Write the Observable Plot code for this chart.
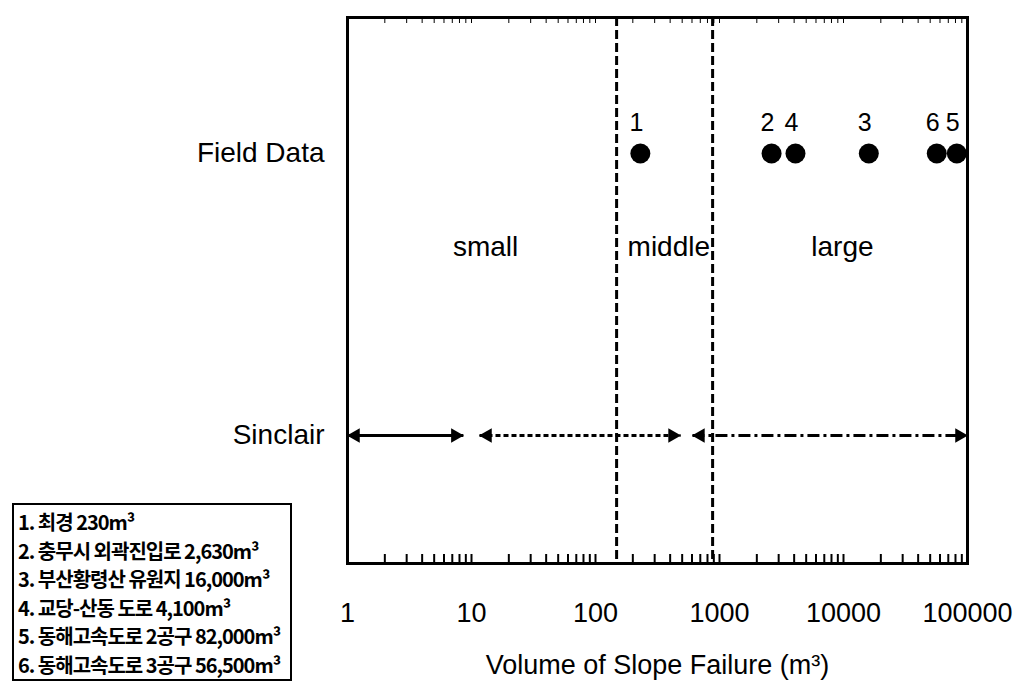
<!DOCTYPE html>
<html>
<head>
<meta charset="utf-8">
<script src="https://cdn.jsdelivr.net/npm/d3@7"></script>
<script src="https://cdn.jsdelivr.net/npm/@observablehq/plot@0.6"></script>
<style>
  body { margin: 0; background: #fff; }
  #wrap { position: relative; width: 1014px; height: 688px; overflow: hidden; }
  #legend {
    position: absolute; left: 12px; top: 503px; width: 280px; height: 178px;
    border: 2px solid #000; box-sizing: border-box; padding: 3px 0 0 4px;
    font-family: "Noto Sans CJK KR", sans-serif; font-weight: bold; font-size: 20px;
    color: #000; background: #fff;
  }
  #legend div { height: 28.5px; line-height: 28.5px; white-space: nowrap; letter-spacing: -1px; }
</style>
</head>
<body>
<div id="wrap"></div>
<script>
// ---- data ----
const fieldIds = ["1", "2", "3", "4", "5", "6"];
const fieldVolumes = [230, 2630, 16000, 4100, 82000, 56500];

const classNames = ["small", "middle", "large"];
const classCenters = [13, 390, 9800];
const classBounds = [148, 880];

const sinclairStart = [1, 11.6, 605];
const sinclairEnd = [8.6, 485, 100000];

const rowNames = ["Field Data", "classes", "gap", "Sinclair"];
const rowTicks = ["Field Data", "Sinclair"];

const majorTicks = [1, 10, 100, 1000, 10000, 100000];
const xTitle = "Volume of Slope Failure (m³)";

const legendLines = [
  "1. 최경 230m³",
  "2. 충무시 외곽진입로 2,630m³",
  "3. 부산황령산 유원지 16,000m³",
  "4. 교당-산동 도로 4,100m³",
  "5. 동해고속도로 2공구 82,000m³",
  "6. 동해고속도로 3공구 56,500m³"
];

// ---- tables ----
const field = fieldIds.map((id, i) => ({id, volume: fieldVolumes[i]}));
const classes = classNames.map((name, i) => ({name, at: classCenters[i]}));
const sinclair = sinclairStart.map((s, i) => ({start: s, end: sinclairEnd[i]}));
const segDash = [null, "5,3", "12,4,3,4"];
const minorTicks = [];
for (let e = 0; e < 5; e++) for (let m = 1; m <= 9; m++) minorTicks.push(m * 10 ** e);
minorTicks.push(100000);

const marks = [
  Plot.ruleX(classBounds, {strokeWidth: 3, strokeDasharray: "9,4"}),
  Plot.axisX({anchor: "bottom", ticks: minorTicks, tickSize: -9, strokeWidth: 2, tickFormat: () => ""}),
  Plot.axisX({anchor: "top", ticks: minorTicks, tickSize: -5, strokeWidth: 1, tickFormat: () => ""}),
  Plot.axisX({anchor: "bottom", ticks: majorTicks, tickSize: 0, tickPadding: 39,
    tickFormat: d => String(d), fontSize: 27,
    label: xTitle, labelAnchor: "center", labelArrow: "none", labelOffset: 110}),
  Plot.axisY({ticks: rowTicks, tickSize: 0, tickPadding: 23, fontSize: 28, label: null}),
  Plot.frame({strokeWidth: 3}),
  Plot.dot(field, {x: "volume", y: () => "Field Data", r: 10, fill: "#000"}),
  Plot.text(field, {x: "volume", y: () => "Field Data", text: "id", dy: -31, dx: -4, fontSize: 25}),
  Plot.text(classes, {x: "at", y: () => "classes", text: "name", fontSize: 28}),
  ...sinclair.map((seg, k) => Plot.link([seg], {
    x1: "start", x2: "end", y1: () => "Sinclair", y2: () => "Sinclair",
    strokeWidth: 3, strokeDasharray: segDash[k]
  })),
  Plot.dot(sinclair, {x: "start", y: () => "Sinclair", symbol: "triangle2", r: 7, rotate: -90, dx: 8, fill: "#000"}),
  Plot.dot(sinclair, {x: "end", y: () => "Sinclair", symbol: "triangle2", r: 7, rotate: 90, dx: -8, fill: "#000"})
];

const chart = Plot.plot({
  width: 1014,
  height: 688,
  marginLeft: 347,
  marginRight: 47,
  marginTop: 17,
  marginBottom: 125,
  style: {fontFamily: "'Liberation Sans', Arial, sans-serif", fontSize: "28px", color: "#000", background: "#fff"},
  x: {type: "log", domain: [1, 100000], axis: null},
  y: {type: "point", domain: rowNames, padding: 1.374, align: 0.517, axis: null},
  marks
});

const wrap = document.getElementById("wrap");
wrap.appendChild(chart);
const legend = document.createElement("div");
legend.id = "legend";
legendLines.forEach(t => { const d = document.createElement("div"); d.textContent = t; legend.appendChild(d); });
wrap.appendChild(legend);
</script>
</body>
</html>
